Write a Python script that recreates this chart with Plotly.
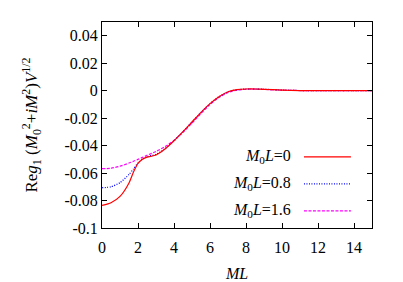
import plotly.graph_objects as go

ml = [0, 0.5, 1, 1.5, 1.75, 2, 2.25, 2.5, 3, 3.5, 4, 4.5, 5, 5.5, 6, 6.5, 7, 7.5, 8, 8.5, 9, 10, 11, 12, 13, 14, 15]
reg_m0 = [-0.0836, -0.0816, -0.0770, -0.0672, -0.0592, -0.0530, -0.0500, -0.0484, -0.0468, -0.0425, -0.0365,
          -0.0298, -0.0228, -0.0158, -0.0094, -0.0044, -0.0008, 0.0007, 0.0012, 0.0012, 0.0010, 0.0004, 0.0001,
          0.0, 0.0, 0.0, 0.0]
reg_m08 = [-0.0707, -0.0700, -0.0670, -0.0610, -0.0570, -0.0526, -0.0498, -0.0481, -0.0464, -0.0423, -0.0364,
           -0.0298, -0.0228, -0.0158, -0.0094, -0.0044, -0.0008, 0.0007, 0.0012, 0.0012, 0.0010, 0.0004, 0.0001,
           0.0, 0.0, 0.0, 0.0]
reg_m16 = [-0.0568, -0.0565, -0.0550, -0.0527, -0.0514, -0.0500, -0.0486, -0.0471, -0.0443, -0.0407, -0.0362,
           -0.0303, -0.0236, -0.0166, -0.0101, -0.0050, -0.0013, 0.0004, 0.0010, 0.0011, 0.0009, 0.0004, 0.0001,
           0.0, 0.0, 0.0, 0.0]

series_names = ["<i>M</i><sub>0</sub><i>L</i>=0", "<i>M</i><sub>0</sub><i>L</i>=0.8", "<i>M</i><sub>0</sub><i>L</i>=1.6"]
series_values = [reg_m0, reg_m08, reg_m16]
colors = ["#ff0000", "#0000ff", "#ff00ff"]
dashes = ["solid", "1px,1.5px", "3px,1.5px"]

x_ticks = [0, 2, 4, 6, 8, 10, 12, 14]
y_ticks = [-0.1, -0.08, -0.06, -0.04, -0.02, 0, 0.02, 0.04]
y_tick_labels = ["-0.1", "-0.08", "-0.06", "-0.04", "-0.02", "0", "0.02", "0.04"]

FONT = "Liberation Serif"

fig = go.Figure()
# draw in reverse so red is on top
for name, vals, c, d in reversed(list(zip(series_names, series_values, colors, dashes))):
    fig.add_trace(go.Scatter(x=ml, y=vals, mode="lines", name=name,
                             line=dict(color=c, width=1.2, dash=d, shape="spline", smoothing=0.6),
                             showlegend=False))

# custom gnuplot-style legend: text on the left, line sample on the right
leg_y = [0.345, 0.214, 0.083]
for name, c, d, yy in zip(series_names, colors, dashes, leg_y):
    fig.add_annotation(xref="paper", yref="paper", x=0.707, y=yy, text=name, showarrow=False,
                       xanchor="right", yanchor="middle", font=dict(family=FONT, size=16, color="black"))
    fig.add_shape(type="line", xref="paper", yref="paper", x0=0.748, x1=0.922, y0=yy, y1=yy,
                  line=dict(color=c, width=1.2, dash=d))

axis_common = dict(showline=True, linecolor="black", linewidth=1, mirror="ticks", ticks="inside",
                   ticklen=5, tickcolor="black", showgrid=False, zeroline=False, automargin=False,
                   tickfont=dict(family=FONT, size=16, color="black"))

fig.update_xaxes(range=[0, 15], tickvals=x_ticks, ticklabelstandoff=5,
                 title=dict(text="<i>ML</i>", font=dict(family=FONT, size=16, color="black"), standoff=12),
                 **axis_common)
fig.update_yaxes(range=[-0.1, 0.05], tickvals=y_ticks, ticktext=y_tick_labels,
                 title=dict(text="Re<i>g</i><sub>1</sub> (<i>M</i><sub>0</sub><sup>2</sup>+<i>iM</i><sup>2</sup>)<i>V</i><sup>1/2</sup>",
                            font=dict(family=FONT, size=17, color="black"), standoff=22),
                 **axis_common)

# page body has an 8px margin, so the figure is made 8px smaller and margins shifted
fig.update_layout(width=395, height=274, margin=dict(l=94, r=31, t=14, b=54, autoexpand=False),
                  paper_bgcolor="white", plot_bgcolor="white",
                  font=dict(family=FONT, size=16, color="black"))

fig.write_html("out.html")
